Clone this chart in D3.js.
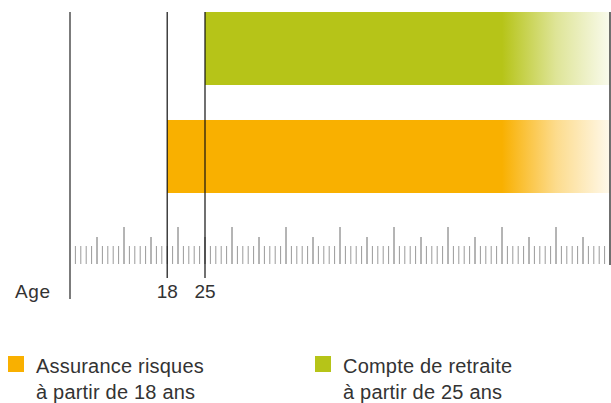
<!DOCTYPE html>
<html><head><meta charset="utf-8">
<script src="https://cdn.jsdelivr.net/npm/d3@7"></script>
<style>
html,body{margin:0;padding:0;background:#fff;}
svg{display:block;}
text{font-family:"Liberation Sans",Arial,sans-serif;fill:#333;}
</style></head>
<body>
<svg id="c" width="611" height="403"></svg>
<script>
// Data
const categories = ["Compte de retraite", "Assurance risques"];
const startAges = [25, 18];
const endAges = [100, 100];
const fadeStartAge = 80;
const colors = ["#b6c418", "#f9b000"];
const legendLine1 = ["Assurance risques", "Compte de retraite"];
const legendLine2 = ["à partir de 18 ans", "à partir de 25 ans"];
const legendColors = ["#f9b000", "#b6c418"];
const markerAges = [18, 25];
const ageDomain = [0, 100];
const axisTitle = "Age";

const svg = d3.select("#c");
const x = d3.scaleLinear().domain(ageDomain).range([70, 610]);
const y = d3.scaleBand().domain(categories).range([12, 193]).paddingInner(0.324).paddingOuter(0);

// gradients
const defs = svg.append("defs");
categories.forEach((c, i) => {
  const g = defs.append("linearGradient").attr("id", "g" + i)
    .attr("gradientUnits", "userSpaceOnUse")
    .attr("x1", x(fadeStartAge)).attr("x2", x(endAges[i])).attr("y1", 0).attr("y2", 0);
  g.append("stop").attr("offset", 0).attr("stop-color", colors[i]).attr("stop-opacity", 1);
  g.append("stop").attr("offset", 0.5).attr("stop-color", colors[i]).attr("stop-opacity", 0.45);
  g.append("stop").attr("offset", 1).attr("stop-color", colors[i]).attr("stop-opacity", 0.08);
});

// bars
svg.selectAll("rect.bar").data(categories).join("rect")
  .attr("class", "bar")
  .attr("x", (d, i) => x(startAges[i]))
  .attr("y", d => y(d))
  .attr("width", (d, i) => x(endAges[i]) - x(startAges[i]))
  .attr("height", y.bandwidth())
  .attr("fill", (d, i) => `url(#g${i})`);

// ruler ticks
const tickAges = d3.range(ageDomain[0] + 1, ageDomain[1]);
svg.selectAll("line.tick").data(tickAges).join("line")
  .attr("class", "tick")
  .attr("x1", d => x(d)).attr("x2", d => x(d))
  .attr("y1", d => d % 10 === 0 ? 227 : (d % 5 === 0 ? 237 : 246))
  .attr("y2", 264)
  .attr("stroke", d => d % 5 === 0 ? "#6a6a6a" : "#9a9a9a")
  .attr("stroke-width", 1);

// main vertical lines
svg.append("line").attr("x1", x(0)).attr("x2", x(0)).attr("y1", 12).attr("y2", 299)
  .attr("stroke", "#444").attr("stroke-width", 1.4);
svg.selectAll("line.marker").data(markerAges).join("line")
  .attr("class", "marker")
  .attr("x1", d => x(d)).attr("x2", d => x(d)).attr("y1", 12).attr("y2", 278)
  .attr("stroke", "#111").attr("stroke-width", 1.2);
svg.append("line").attr("x1", x(100)).attr("x2", x(100)).attr("y1", 12).attr("y2", 265)
  .attr("stroke", "#333").attr("stroke-width", 1.4);

// labels
svg.append("text").attr("x", 15).attr("y", 298).attr("font-size", 19).attr("letter-spacing", 0.6).text(axisTitle);
svg.selectAll("text.mk").data(markerAges).join("text")
  .attr("class", "mk")
  .attr("x", d => x(d)).attr("y", 298).attr("text-anchor", "middle").attr("font-size", 19)
  .text(d => d);

// legend
const legX = [8, 315];
const leg = svg.selectAll("g.leg").data(legendLine1).join("g").attr("class", "leg")
  .attr("transform", (d, i) => `translate(${legX[i]},0)`);
leg.append("rect").attr("x", 0).attr("y", 356).attr("width", 16).attr("height", 16)
  .attr("fill", (d, i) => legendColors[i]);
leg.append("text").attr("x", 28).attr("y", 373).attr("font-size", 20).attr("letter-spacing", 0.2).text(d => d);
leg.append("text").attr("x", 28).attr("y", 399).attr("font-size", 20).attr("letter-spacing", 0.2).text((d, i) => legendLine2[i]);
</script>
</body></html>
